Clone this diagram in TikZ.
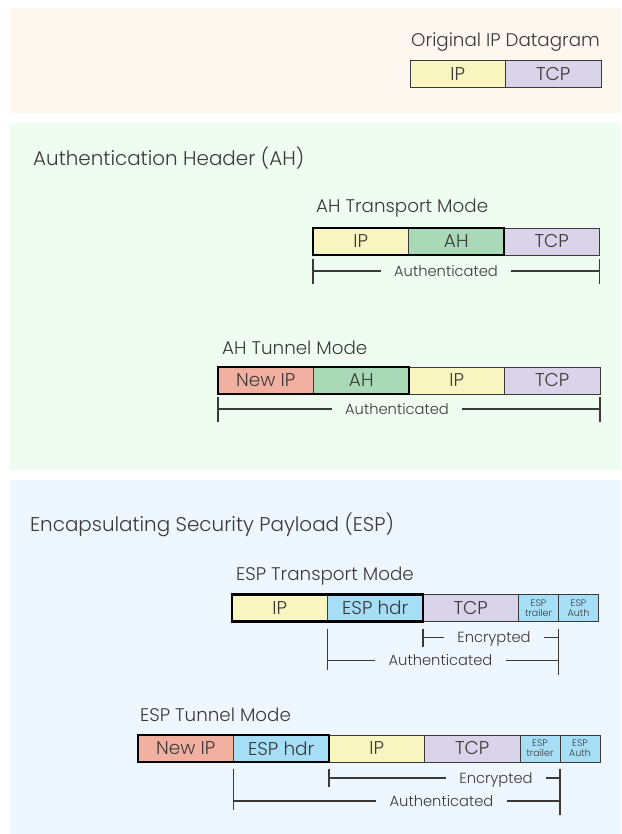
\documentclass[tikz,border=0pt]{standalone}
\usepackage{fontspec}
\setmainfont{Poppins}[UprightFont=* Light]
\usetikzlibrary{positioning,calc}

\definecolor{panelOrig}{HTML}{FEF7EF}
\definecolor{panelAH}{HTML}{EEFDF0}
\definecolor{panelESP}{HTML}{EEF7FD}
\definecolor{fillIP}{HTML}{F8F5C0}
\definecolor{fillTCP}{HTML}{D9D4EA}
\definecolor{fillAH}{HTML}{A9D9B6}
\definecolor{fillNew}{HTML}{F2B1A0}
\definecolor{fillESP}{HTML}{A6DEF6}
\definecolor{ink}{HTML}{3A3A3A}

\tikzset{
	field/.style={draw=ink, line width=0.9pt, fill=#1, minimum width=\fieldWidth, minimum height=\fieldHeight,
		inner sep=0pt, outer sep=0pt, text=ink, font=\fontsize{18.5}{18.5}\selectfont},
	small field/.style={field=#1, minimum width=\smallWidth, align=center, font=\fontsize{9.5}{10}\selectfont},
	outline/.style={draw=black, line width=2.6pt},
	mode title/.style={anchor=base west, inner sep=0pt, text=ink, font=\fontsize{18.3}{18.3}\selectfont},
	part title/.style={anchor=base west, inner sep=0pt, text=ink, font=\fontsize{19.9}{19.9}\selectfont},
	span label/.style={text=ink, inner xsep=13pt, inner ysep=0pt, text height=10.5pt, text depth=0pt,
		font=\fontsize{14.7}{14.7}\selectfont},
	bracket/.style={draw=ink, line width=1.3pt}
}

\begin{document}
\begin{tikzpicture}[x=1pt,y=-1pt]
	\newcommand{\fieldWidth}{95.5pt}
	\newcommand{\fieldHeight}{27pt}
	\newcommand{\smallWidth}{40pt}

	\useasboundingbox (0,0) rectangle (621,834);

	% panels
	\fill[panelOrig] (10,8) rectangle (621,113);
	\fill[panelAH] (10,123) rectangle (621,470);
	\fill[panelESP] (10,480) rectangle (621,834);

	% original datagram
	\node[mode title] (orig_title) at (411,47) {Original IP Datagram};
	\node[field=fillIP, anchor=west] (orig_ip) at (410,74) {IP};
	\node[field=fillTCP, right=0pt of orig_ip] (orig_tcp) {TCP};

	% authentication header
	\node[part title] (ah_title) at (33,166) {Authentication Header (AH)};

	\node[mode title] (ahtr_title) at (316,213) {AH Transport Mode};
	\node[field=fillIP, anchor=west] (ahtr_ip) at (313,241.5) {IP};
	\node[field=fillAH, right=0pt of ahtr_ip] (ahtr_ah) {AH};
	\node[field=fillTCP, right=0pt of ahtr_ah] (ahtr_tcp) {TCP};
	\draw[outline] (ahtr_ip.north west) rectangle (ahtr_ah.south east);

	\coordinate (ahtr_auth_l) at ($(ahtr_ip.south west)+(0,16)$);
	\coordinate (ahtr_auth_r) at ($(ahtr_tcp.south east)+(0,16)$);
	\node[span label] (ahtr_auth) at ($(ahtr_auth_l)+(133,0)$) {Authenticated};
	\draw[bracket] (ahtr_auth_l) -- (ahtr_auth.west);
	\draw[bracket] (ahtr_auth.east) -- (ahtr_auth_r);
	\draw[bracket] ($(ahtr_auth_l)+(0,-12)$) -- ($(ahtr_auth_l)+(0,13)$);
	\draw[bracket] ($(ahtr_auth_r)+(0,-12)$) -- ($(ahtr_auth_r)+(0,13)$);

	\node[mode title] (ahtu_title) at (222,354) {AH Tunnel Mode};
	\node[field=fillNew, anchor=west] (ahtu_new) at (218,380.5) {New IP};
	\node[field=fillAH, right=0pt of ahtu_new] (ahtu_ah) {AH};
	\node[field=fillIP, right=0pt of ahtu_ah] (ahtu_ip) {IP};
	\node[field=fillTCP, right=0pt of ahtu_ip] (ahtu_tcp) {TCP};
	\draw[outline] (ahtu_new.north west) rectangle (ahtu_ah.south east);

	\coordinate (ahtu_auth_l) at ($(ahtu_new.south west)+(0,15)$);
	\coordinate (ahtu_auth_r) at ($(ahtu_tcp.south east)+(0,15)$);
	\node[span label] (ahtu_auth) at ($(ahtu_auth_l)+(179,0)$) {Authenticated};
	\draw[bracket] (ahtu_auth_l) -- (ahtu_auth.west);
	\draw[bracket] (ahtu_auth.east) -- (ahtu_auth_r);
	\draw[bracket] ($(ahtu_auth_l)+(0,-12)$) -- ($(ahtu_auth_l)+(0,13)$);
	\draw[bracket] ($(ahtu_auth_r)+(0,-12)$) -- ($(ahtu_auth_r)+(0,13)$);

	% encapsulating security payload
	\node[part title] (esp_title) at (30,531) {Encapsulating Security Payload (ESP)};

	\node[mode title] (esptr_title) at (236,580) {ESP Transport Mode};
	\node[field=fillIP, anchor=west] (esptr_ip) at (232,608) {IP};
	\node[field=fillESP, right=0pt of esptr_ip] (esptr_hdr) {ESP hdr};
	\node[field=fillTCP, right=0pt of esptr_hdr] (esptr_tcp) {TCP};
	\node[small field=fillESP, right=0pt of esptr_tcp] (esptr_trailer) {ESP\\trailer};
	\node[small field=fillESP, right=0pt of esptr_trailer] (esptr_auth) {ESP\\Auth};
	\draw[outline] (esptr_ip.north west) rectangle (esptr_hdr.south east);

	\coordinate (esptr_enc_l) at ($(esptr_tcp.south west)+(0,16)$);
	\coordinate (esptr_enc_r) at ($(esptr_trailer.south east)+(0,16)$);
	\node[span label] (esptr_enc) at ($(esptr_enc_l)+(71,0)$) {Encrypted};
	\draw[bracket] (esptr_enc_l) -- (esptr_enc.west);
	\draw[bracket] (esptr_enc.east) -- (esptr_enc_r);
	\draw[bracket] ($(esptr_enc_l)+(0,-9)$) -- ($(esptr_enc_l)+(0,9)$);

	\coordinate (esptr_auth_l) at ($(esptr_hdr.south west)+(0,39)$);
	\coordinate (esptr_auth_r) at ($(esptr_trailer.south east)+(0,39)$);
	\node[span label] (esptr_authd) at ($(esptr_auth_l)+(113,0)$) {Authenticated};
	\draw[bracket] (esptr_auth_l) -- (esptr_authd.west);
	\draw[bracket] (esptr_authd.east) -- (esptr_auth_r);
	\draw[bracket] ($(esptr_auth_l)+(0,-32)$) -- ($(esptr_auth_l)+(0,9)$);
	\draw[bracket] ($(esptr_enc_r)+(0,-9)$) -- ($(esptr_auth_r)+(0,14)$);

	\node[mode title] (esptu_title) at (140,721) {ESP Tunnel Mode};
	\node[field=fillNew, anchor=west] (esptu_new) at (138,748.5) {New IP};
	\node[field=fillESP, right=0pt of esptu_new] (esptu_hdr) {ESP hdr};
	\node[field=fillIP, right=0pt of esptu_hdr] (esptu_ip) {IP};
	\node[field=fillTCP, right=0pt of esptu_ip] (esptu_tcp) {TCP};
	\node[small field=fillESP, right=0pt of esptu_tcp] (esptu_trailer) {ESP\\trailer};
	\node[small field=fillESP, right=0pt of esptu_trailer] (esptu_auth) {ESP\\Auth};
	\draw[outline] (esptu_new.north west) rectangle (esptu_hdr.south east);

	\coordinate (esptu_enc_l) at ($(esptu_ip.south west)+(0,16)$);
	\coordinate (esptu_enc_r) at ($(esptu_trailer.south east)+(0,16)$);
	\node[span label] (esptu_enc) at ($(esptu_enc_l)+(167,0)$) {Encrypted};
	\draw[bracket] (esptu_enc_l) -- (esptu_enc.west);
	\draw[bracket] (esptu_enc.east) -- (esptu_enc_r);
	\draw[bracket] ($(esptu_enc_l)+(0,-9)$) -- ($(esptu_enc_l)+(0,9)$);

	\coordinate (esptu_auth_l) at ($(esptu_hdr.south west)+(0,39)$);
	\coordinate (esptu_auth_r) at ($(esptu_trailer.south east)+(0,39)$);
	\node[span label] (esptu_authd) at ($(esptu_auth_l)+(208,0)$) {Authenticated};
	\draw[bracket] (esptu_auth_l) -- (esptu_authd.west);
	\draw[bracket] (esptu_authd.east) -- (esptu_auth_r);
	\draw[bracket] ($(esptu_auth_l)+(0,-32)$) -- ($(esptu_auth_l)+(0,9)$);
	\draw[bracket] ($(esptu_enc_r)+(0,-9)$) -- ($(esptu_auth_r)+(0,14)$);
\end{tikzpicture}
\end{document}
